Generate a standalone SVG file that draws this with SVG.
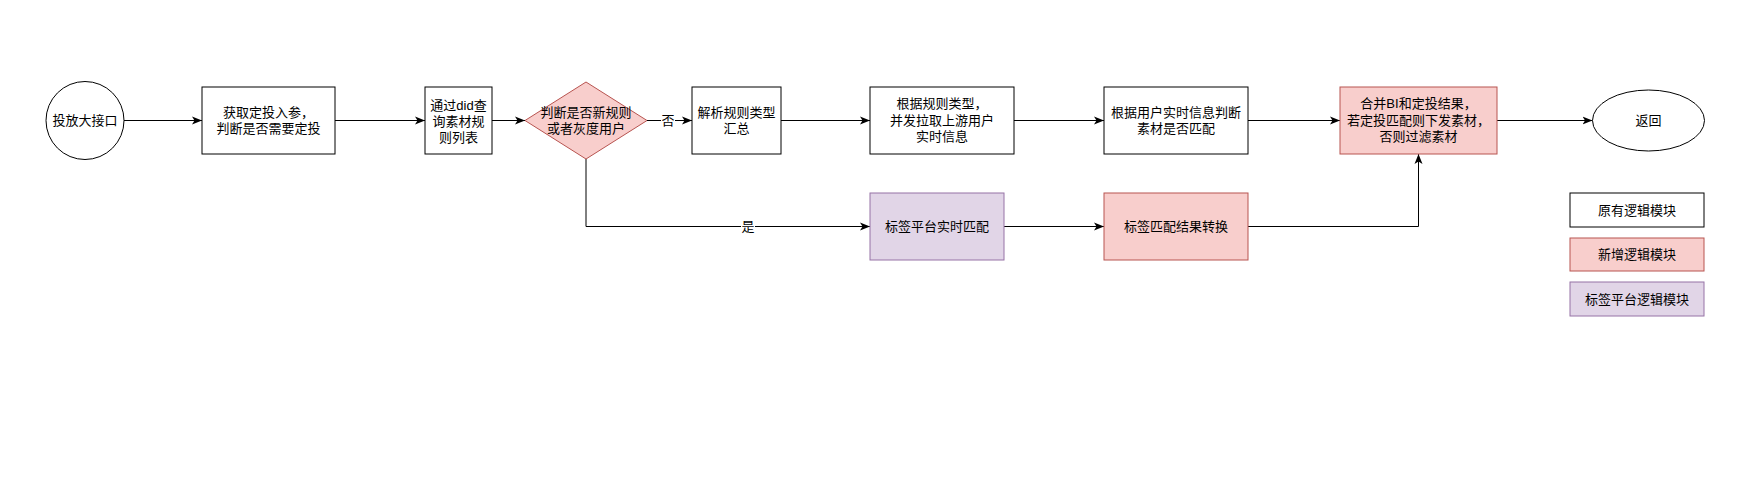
<svg xmlns="http://www.w3.org/2000/svg" width="1758" height="492" viewBox="0 0 1758 492">
<defs>
<marker id="arr" markerWidth="11" markerHeight="9" refX="10" refY="4.5" orient="auto" markerUnits="userSpaceOnUse">
<path d="M0,0.5 L10,4.5 L0,8.5 L2.5,4.5 Z" fill="#000"/>
</marker>
<style>
.t{font-family:"Liberation Sans","Noto Sans CJK SC",sans-serif;font-size:13px;fill:#000;text-anchor:middle}
.n{fill:#fff;stroke:#000;stroke-width:1}
.p{fill:#f8cecc;stroke:#b85450;stroke-width:1}
.v{fill:#e1d5e7;stroke:#9673a6;stroke-width:1}
.e{fill:none;stroke:#000;stroke-width:1;marker-end:url(#arr)}
.lb{fill:#fff}
</style>
</defs>
<rect width="1758" height="492" fill="#fff"/>
<g id="connectors">
<path class="e" d="M124,120.5 L202,120.5"/>
<path class="e" d="M335,120.5 L425,120.5"/>
<path class="e" d="M492,120.5 L525,120.5"/>
<path class="e" d="M647,120.5 L692,120.5"/>
<path class="e" d="M781,120.5 L870,120.5"/>
<path class="e" d="M1014,120.5 L1104,120.5"/>
<path class="e" d="M1248,120.5 L1340,120.5"/>
<path class="e" d="M1497,120.5 L1592.5,120.5"/>
<path class="e" d="M586,159 L586,226.5 L870,226.5"/>
<path class="e" d="M1004,226.5 L1104,226.5"/>
<path class="e" d="M1248,226.5 L1418.5,226.5 L1418.5,154"/>
<rect class="lb" x="661" y="112" width="14" height="16"/>
<text class="t" x="668" y="125">否</text>
<rect class="lb" x="741" y="218" width="14" height="16"/>
<text class="t" x="748" y="231">是</text>
</g>
<g id="start">
<circle class="n" cx="85" cy="120.5" r="39"/>
<text class="t" x="85" y="125">投放大接口</text>
</g>
<g id="n1">
<rect class="n" x="202" y="87" width="133" height="67"/>
<text class="t" x="268.5" y="117">获取定投入参，</text>
<text class="t" x="268.5" y="133">判断是否需要定投</text>
</g>
<g id="n2">
<rect class="n" x="425" y="87" width="67" height="67"/>
<text class="t" x="458.5" y="109.5">通过did查</text>
<text class="t" x="458.5" y="125.5">询素材规</text>
<text class="t" x="458.5" y="141.5">则列表</text>
</g>
<g id="decision">
<path class="p" d="M586,82 L647,120.5 L586,159 L525,120.5 Z"/>
<text class="t" x="586" y="117">判断是否新规则</text>
<text class="t" x="586" y="133">或者灰度用户</text>
</g>
<g id="n3">
<rect class="n" x="692" y="87" width="89" height="67"/>
<text class="t" x="736.5" y="117">解析规则类型</text>
<text class="t" x="736.5" y="133">汇总</text>
</g>
<g id="n4">
<rect class="n" x="870" y="87" width="144" height="67"/>
<text class="t" x="942" y="108">根据规则类型，</text>
<text class="t" x="942" y="125">并发拉取上游用户</text>
<text class="t" x="942" y="141">实时信息</text>
</g>
<g id="n5">
<rect class="n" x="1104" y="87" width="144" height="67"/>
<text class="t" x="1176" y="117">根据用户实时信息判断</text>
<text class="t" x="1176" y="133">素材是否匹配</text>
</g>
<g id="merge">
<rect class="p" x="1340" y="87" width="157" height="67"/>
<text class="t" x="1418.5" y="108">合并BI和定投结果，</text>
<text class="t" x="1418.5" y="125">若定投匹配则下发素材，</text>
<text class="t" x="1418.5" y="141">否则过滤素材</text>
</g>
<g id="end">
<ellipse class="n" cx="1648.5" cy="120.5" rx="56" ry="30.5"/>
<text class="t" x="1648.5" y="125">返回</text>
</g>
<g id="tagmatch">
<rect class="v" x="870" y="193" width="134" height="67"/>
<text class="t" x="937" y="231">标签平台实时匹配</text>
</g>
<g id="tagconvert">
<rect class="p" x="1104" y="193" width="144" height="67"/>
<text class="t" x="1176" y="231">标签匹配结果转换</text>
</g>
<g id="legend-orig">
<rect class="n" x="1570" y="193" width="134" height="34"/>
<text class="t" x="1637" y="214.5">原有逻辑模块</text>
</g>
<g id="legend-new">
<rect class="p" x="1570" y="238" width="134" height="33"/>
<text class="t" x="1637" y="259">新增逻辑模块</text>
</g>
<g id="legend-tag">
<rect class="v" x="1570" y="282" width="134" height="34"/>
<text class="t" x="1637" y="303.5">标签平台逻辑模块</text>
</g>
</svg>
